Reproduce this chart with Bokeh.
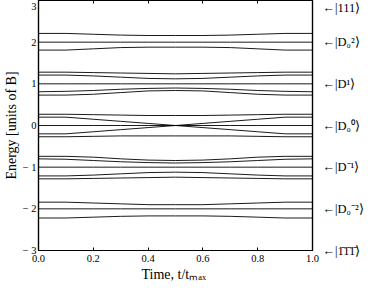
from bokeh.plotting import figure
from bokeh.models import LinearAxis, FixedTicker
from bokeh.embed import file_html
from bokeh.resources import INLINE

# time grid (t / t_max)
t = [0.0, 0.1, 0.2, 0.3, 0.4, 0.5, 0.6, 0.7, 0.8, 0.9, 1.0]

# energy levels (units of B)
e_111 = [3.0, 3.0, 3.0, 3.0, 3.0, 3.0, 3.0, 3.0, 3.0, 3.0, 3.0]

d2_top = [2.21, 2.21, 2.19, 2.17, 2.16, 2.16, 2.16, 2.17, 2.19, 2.21, 2.21]
d2_mid = [2.0, 2.0, 2.0, 2.0, 2.0, 2.0, 2.0, 2.0, 2.0, 2.0, 2.0]
d2_bot = [1.81, 1.81, 1.84, 1.87, 1.88, 1.88, 1.88, 1.87, 1.84, 1.81, 1.81]

d1_a = [1.28, 1.28, 1.27, 1.26, 1.25, 1.24, 1.25, 1.26, 1.27, 1.28, 1.28]
d1_b = [1.21, 1.21, 1.19, 1.16, 1.13, 1.12, 1.13, 1.16, 1.19, 1.21, 1.21]
d1_c = [1.0, 1.0, 1.0, 1.0, 1.0, 1.0, 1.0, 1.0, 1.0, 1.0, 1.0]
d1_d = [0.81, 0.82, 0.84, 0.87, 0.89, 0.90, 0.89, 0.87, 0.84, 0.82, 0.81]
d1_e = [0.73, 0.73, 0.75, 0.79, 0.83, 0.84, 0.83, 0.79, 0.75, 0.73, 0.73]

d0_a = [0.27, 0.27, 0.26, 0.25, 0.24, 0.24, 0.24, 0.25, 0.26, 0.27, 0.27]
d0_b = [0.20, 0.20, 0.15, 0.10, 0.05, 0.00, -0.05, -0.10, -0.15, -0.20, -0.20]
d0_c = [0.0, 0.0, 0.0, 0.0, 0.0, 0.0, 0.0, 0.0, 0.0, 0.0, 0.0]
d0_d = [-0.20, -0.20, -0.15, -0.10, -0.05, 0.00, 0.05, 0.10, 0.15, 0.20, 0.20]
d0_e = [-0.27, -0.27, -0.26, -0.25, -0.25, -0.25, -0.25, -0.25, -0.26, -0.27, -0.27]

dm1_a = [-0.74, -0.74, -0.76, -0.80, -0.83, -0.84, -0.83, -0.80, -0.76, -0.74, -0.74]
dm1_b = [-0.80, -0.81, -0.84, -0.87, -0.89, -0.90, -0.89, -0.87, -0.84, -0.81, -0.80]
dm1_c = [-1.0, -1.0, -1.0, -1.0, -1.0, -1.0, -1.0, -1.0, -1.0, -1.0, -1.0]
dm1_d = [-1.21, -1.21, -1.19, -1.16, -1.13, -1.12, -1.13, -1.16, -1.19, -1.21, -1.21]
dm1_e = [-1.28, -1.28, -1.27, -1.26, -1.25, -1.24, -1.25, -1.26, -1.27, -1.28, -1.28]

dm2_top = [-1.84, -1.84, -1.86, -1.88, -1.90, -1.90, -1.90, -1.88, -1.86, -1.84, -1.84]
dm2_mid = [-2.0, -2.0, -2.0, -2.0, -2.0, -2.0, -2.0, -2.0, -2.0, -2.0, -2.0]
dm2_bot = [-2.22, -2.22, -2.20, -2.18, -2.17, -2.17, -2.17, -2.18, -2.20, -2.22, -2.22]

e_m111 = [-3.0, -3.0, -3.0, -3.0, -3.0, -3.0, -3.0, -3.0, -3.0, -3.0, -3.0]

levels = [e_111, d2_top, d2_mid, d2_bot, d1_a, d1_b, d1_c, d1_d, d1_e,
          d0_a, d0_b, d0_c, d0_d, d0_e, dm1_a, dm1_b, dm1_c, dm1_d, dm1_e,
          dm2_top, dm2_mid, dm2_bot, e_m111]

# state labels on the right
state_y = [3, 2, 1, 0, -1, -2, -3]
state_text = ["\u2190|111\u27e9", "\u2190|D\u2080\u00b2\u27e9", "\u2190|D\u00b9\u27e9",
              "\u2190|D\u2080\u2070\u27e9", "\u2190|D\u207b\u00b9\u27e9",
              "\u2190|D\u2080\u207b\u00b2\u27e9", "\u2190|1\u03041\u03041\u0304\u27e9"]

x_ticks = [0.0, 0.2, 0.4, 0.6, 0.8, 1.0]
y_ticks = [-3, -2, -1, 0, 1, 2, 3]
y_tick_labels = {-3: "\u2212 3", -2: "\u2212 2", -1: "\u2212 1", 0: "0", 1: "1", 2: "2", 3: "3"}

FONT = "Liberation Serif"

p = figure(width=366, height=284, x_range=(0, 1), y_range=(-3, 3),
           output_backend="svg", toolbar_location=None,
           min_border_top=0, min_border_right=0, min_border_bottom=0, min_border_left=0)
p.background_fill_color = "white"
p.border_fill_color = "white"
p.outline_line_color = "black"
p.outline_line_width = 1.2
p.xgrid.visible = False
p.ygrid.visible = False

for lev in levels:
    p.line(t, lev, line_color="black", line_width=0.9)

# axes
p.xaxis.ticker = FixedTicker(ticks=x_ticks)
p.xaxis.major_label_overrides = {v: f"{v:.1f}" for v in x_ticks}
p.xaxis.axis_label = "Time,  t/t\u2098\u2090\u2093"
p.yaxis.ticker = FixedTicker(ticks=y_ticks)
p.yaxis.major_label_overrides = y_tick_labels
p.yaxis.axis_label = "Energy [units of B]"
for ax in (p.xaxis[0], p.yaxis[0]):
    ax.axis_line_color = "black"
    ax.axis_line_width = 1.2
    ax.major_tick_in = 3
    ax.major_tick_out = 0
    ax.minor_tick_line_color = None
    ax.major_label_text_font = FONT
    ax.major_label_text_font_size = "10.5px"
    ax.major_label_text_color = "black"
    ax.axis_label_text_font = FONT
    ax.axis_label_text_font_size = "14px"
    ax.axis_label_text_font_style = "normal"
    ax.axis_label_text_color = "black"
p.yaxis.major_tick_line_color = None
p.yaxis.major_label_standoff = 2
p.yaxis.axis_label_standoff = 1
p.xaxis.major_label_standoff = 4
p.xaxis.axis_label_standoff = 2

# top axis: inward ticks only
top = LinearAxis(ticker=FixedTicker(ticks=x_ticks), major_tick_in=3, major_tick_out=0,
                 minor_tick_line_color=None,
                 major_label_overrides={v: "" for v in x_ticks},
                 axis_line_color="black", axis_line_width=1.2, major_label_standoff=0)
p.add_layout(top, "above")

# right axis carrying the state labels
right = LinearAxis(ticker=FixedTicker(ticks=state_y),
                   major_label_overrides=dict(zip(state_y, state_text)),
                   major_tick_line_color=None, minor_tick_line_color=None,
                   axis_line_color="black", axis_line_width=1.2,
                   major_label_text_font=FONT, major_label_text_font_size="12.5px",
                   major_label_text_color="black", major_label_standoff=4)
p.add_layout(right, "right")

open("out.html", "w").write(file_html(p, INLINE))
